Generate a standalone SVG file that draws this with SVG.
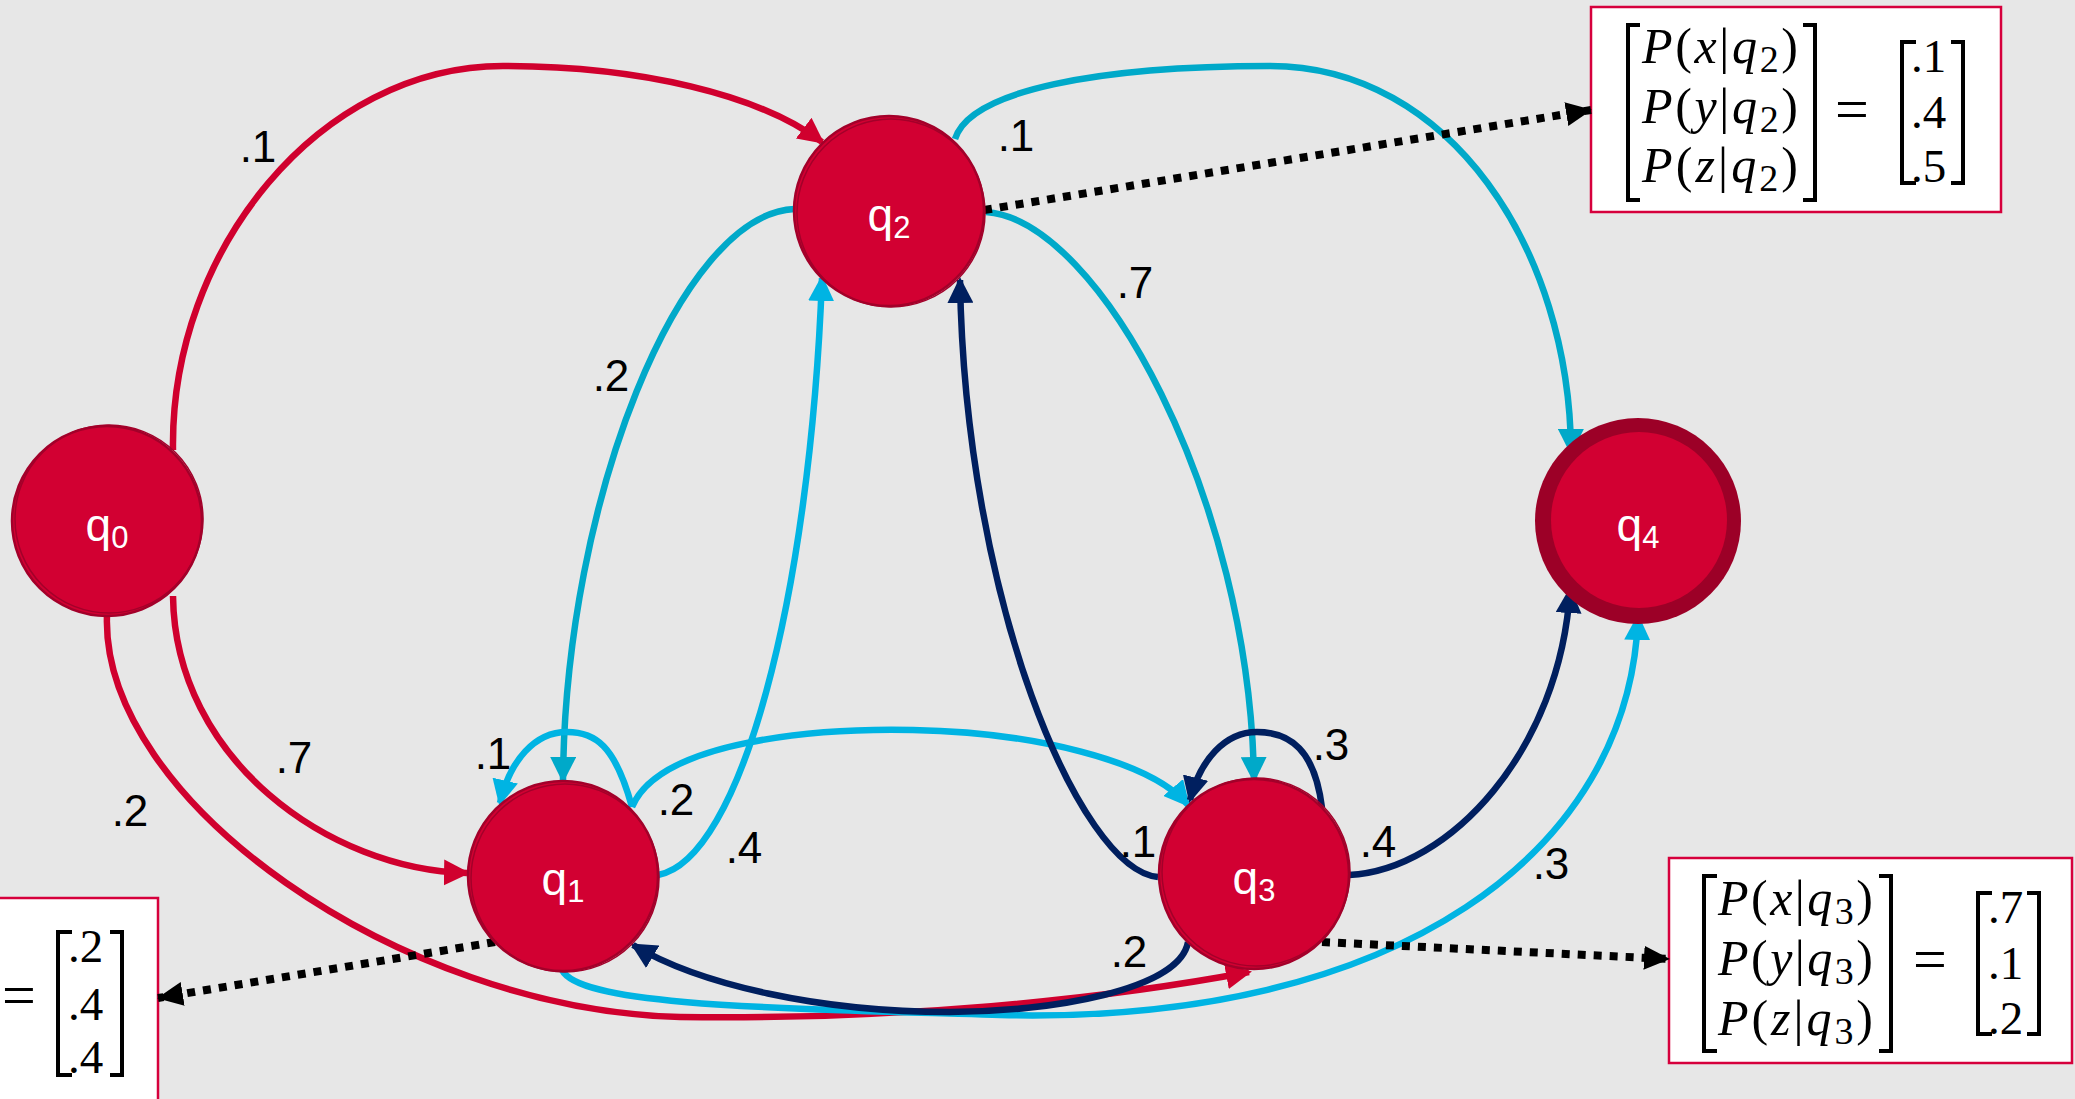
<svg xmlns="http://www.w3.org/2000/svg" width="2075" height="1099" viewBox="0 0 2075 1099">
<style>
.edge{fill:none;stroke-width:6.5}
.red{stroke:#d0002e}
.teal{stroke:#00a9c9}
.cyan{stroke:#00b4e3}
.navy{stroke:#001f5f}
.dot{fill:none;stroke:#000;stroke-width:8;stroke-dasharray:8 8}
.lbl{font-family:"Liberation Sans",Arial,sans-serif;font-size:44px;fill:#000;text-anchor:middle}
.nlbl{font-family:"Liberation Sans",Arial,sans-serif;font-size:46px;fill:#fff;text-anchor:middle}
.node{fill:#d20032;stroke:#a3002a;stroke-width:2.5}
.sk{fill:none;stroke:#a3002a;stroke-width:1.5}
.box{fill:#fff;stroke:#d6003c;stroke-width:2.5}
.br{fill:none;stroke:#000;stroke-width:4}
.mt{font-family:"Liberation Serif","Times New Roman",serif;font-size:50px;font-style:italic;fill:#000}
.up{font-style:normal}
.sub{font-style:normal;font-size:38px}
.num{font-family:"Liberation Serif","Times New Roman",serif;font-size:47px;fill:#000}
.eq{font-family:"Liberation Serif","Times New Roman",serif;font-size:60px;fill:#000;text-anchor:middle}
</style>
<defs>
<marker id="aRed" markerUnits="userSpaceOnUse" markerWidth="26" markerHeight="26" refX="23" refY="13" orient="auto"><path d="M0,0 L26,13 L0,26 z" fill="#d0002e"/></marker>
<marker id="aTeal" markerUnits="userSpaceOnUse" markerWidth="26" markerHeight="26" refX="23" refY="13" orient="auto"><path d="M0,0 L26,13 L0,26 z" fill="#00a9c9"/></marker>
<marker id="aCyan" markerUnits="userSpaceOnUse" markerWidth="26" markerHeight="26" refX="23" refY="13" orient="auto"><path d="M0,0 L26,13 L0,26 z" fill="#00b4e3"/></marker>
<marker id="aNavy" markerUnits="userSpaceOnUse" markerWidth="26" markerHeight="26" refX="23" refY="13" orient="auto"><path d="M0,0 L26,13 L0,26 z" fill="#001f5f"/></marker>
<marker id="aBlk" markerUnits="userSpaceOnUse" markerWidth="26" markerHeight="24" refX="25" refY="12" orient="auto"><path d="M0,0 L26,12 L0,24 z" fill="#000"/></marker>
</defs>
<rect x="0" y="0" width="2075" height="1099" fill="#e7e7e7"/>

<g id="boxes">
<g id="box-q2">
<rect class="box" x="1591" y="7" width="410" height="205"/>
<path class="br" d="M1640,25 H1628 V200 H1640 M1803,25 H1815 V200 H1803 M1916,42 H1902 V183 H1916 M1951,42 H1963 V183 H1951"/>
<text class="mt" x="1642" y="63" textLength="156" lengthAdjust="spacing">P<tspan class="up">(</tspan>x<tspan class="up">|</tspan>q<tspan class="sub" dy="9">2</tspan><tspan class="up" dy="-9">)</tspan></text>
<text class="mt" x="1642" y="123" textLength="156" lengthAdjust="spacing">P<tspan class="up">(</tspan>y<tspan class="up">|</tspan>q<tspan class="sub" dy="9">2</tspan><tspan class="up" dy="-9">)</tspan></text>
<text class="mt" x="1642" y="182" textLength="156" lengthAdjust="spacing">P<tspan class="up">(</tspan>z<tspan class="up">|</tspan>q<tspan class="sub" dy="9">2</tspan><tspan class="up" dy="-9">)</tspan></text>
<text class="eq" x="1852" y="129">=</text>
<text class="num" x="1911" y="72">.1</text>
<text class="num" x="1911" y="128">.4</text>
<text class="num" x="1911" y="182">.5</text>
</g>
<g id="box-q3">
<rect class="box" x="1669" y="858" width="403" height="205"/>
<path class="br" d="M1717,876 H1704 V1051 H1717 M1879,876 H1891 V1051 H1879 M1992,893 H1978 V1034 H1992 M2027,893 H2039 V1034 H2027"/>
<text class="mt" x="1718" y="915" textLength="155" lengthAdjust="spacing">P<tspan class="up">(</tspan>x<tspan class="up">|</tspan>q<tspan class="sub" dy="9">3</tspan><tspan class="up" dy="-9">)</tspan></text>
<text class="mt" x="1718" y="975" textLength="155" lengthAdjust="spacing">P<tspan class="up">(</tspan>y<tspan class="up">|</tspan>q<tspan class="sub" dy="9">3</tspan><tspan class="up" dy="-9">)</tspan></text>
<text class="mt" x="1718" y="1035" textLength="155" lengthAdjust="spacing">P<tspan class="up">(</tspan>z<tspan class="up">|</tspan>q<tspan class="sub" dy="9">3</tspan><tspan class="up" dy="-9">)</tspan></text>
<text class="eq" x="1930" y="979">=</text>
<text class="num" x="1988" y="923">.7</text>
<text class="num" x="1988" y="979">.1</text>
<text class="num" x="1988" y="1034">.2</text>
</g>
<g id="box-q1">
<rect class="box" x="-10" y="898" width="168" height="220"/>
<path class="br" d="M72,932 H58 V1075 H72 M110,932 H122 V1075 H110"/>
<text class="eq" x="19" y="1015">=</text>
<text class="num" x="68" y="962">.2</text>
<text class="num" x="68" y="1020">.4</text>
<text class="num" x="68" y="1073">.4</text>
</g>
</g>

<g id="connectors">
<path class="edge red" marker-end="url(#aRed)" d="M173,450 C170,250 320,66 503,66 C640,66 760,95 822,142"/>
<path class="edge red" marker-end="url(#aRed)" d="M173,596 C175,760 330,870 467,873"/>
<path class="edge red" marker-end="url(#aRed)" d="M107,615 C100,800 400,1010 680,1017 C900,1020 1100,1000 1249,972"/>
<path class="edge teal" marker-end="url(#aTeal)" d="M955,139 C970,90 1100,66 1270,66 C1450,66 1570,250 1571,452"/>
<path class="edge teal" marker-end="url(#aTeal)" d="M794,209 C680,215 565,500 563,780"/>
<path class="edge teal" marker-end="url(#aTeal)" d="M986,212 C1100,220 1250,500 1254,780"/>
<path class="edge cyan" marker-end="url(#aCyan)" d="M632,807 C615,745 595,732 567,732 C535,732 510,760 500,803"/>
<path class="edge cyan" marker-end="url(#aCyan)" d="M632,807 C660,740 820,728 913,730 C1030,732 1150,760 1188,805"/>
<path class="edge cyan" marker-end="url(#aCyan)" d="M658,875 C740,860 810,600 822,278"/>
<path class="edge cyan" marker-end="url(#aCyan)" d="M562,970 C580,1005 760,1008 1000,1015 C1400,1025 1630,850 1638,617"/>
<path class="edge navy" marker-end="url(#aNavy)" d="M1322,808 C1315,750 1290,732 1257,732 C1225,732 1200,760 1190,800"/>
<path class="edge navy" marker-end="url(#aNavy)" d="M1158,877 C1080,870 965,600 960,280"/>
<path class="edge navy" marker-end="url(#aNavy)" d="M1349,875 C1450,870 1560,750 1570,590"/>
<path class="edge navy" marker-end="url(#aNavy)" d="M1188,942 C1180,990 1050,1012 950,1012 C820,1012 700,985 633,945"/>
<path class="dot" marker-end="url(#aBlk)" d="M984,210 L1591,110"/>
<path class="dot" marker-end="url(#aBlk)" d="M1322,942 L1669,959"/>
<path class="dot" marker-end="url(#aBlk)" d="M495,942 L158,998"/>
<text class="lbl" x="258" y="162">.1</text>
<text class="lbl" x="294" y="773">.7</text>
<text class="lbl" x="130" y="826">.2</text>
<text class="lbl" x="1016" y="151">.1</text>
<text class="lbl" x="611" y="391">.2</text>
<text class="lbl" x="1135" y="298">.7</text>
<text class="lbl" x="493" y="769">.1</text>
<text class="lbl" x="676" y="815">.2</text>
<text class="lbl" x="744" y="863">.4</text>
<text class="lbl" x="1331" y="760">.3</text>
<text class="lbl" x="1138" y="857">.1</text>
<text class="lbl" x="1378" y="857">.4</text>
<text class="lbl" x="1129" y="967">.2</text>
<text class="lbl" x="1551" y="879">.3</text>
</g>

<g id="q0"><circle class="node" cx="107" cy="521" r="95"/><circle class="sk" cx="109" cy="519" r="94"/><text class="nlbl" x="107" y="541">q<tspan font-size="31" dy="7">0</tspan></text></g>
<g id="q1"><circle class="node" cx="563" cy="876" r="95"/><circle class="sk" cx="565" cy="878" r="94"/><text class="nlbl" x="563" y="895">q<tspan font-size="31" dy="7">1</tspan></text></g>
<g id="q2"><circle class="node" cx="889" cy="211" r="95"/><circle class="sk" cx="891" cy="213" r="94"/><text class="nlbl" x="889" y="231">q<tspan font-size="31" dy="7">2</tspan></text></g>
<g id="q3"><circle class="node" cx="1254" cy="874" r="95"/><circle class="sk" cx="1256" cy="872" r="94"/><text class="nlbl" x="1254" y="894">q<tspan font-size="31" dy="7">3</tspan></text></g>
<g id="q4"><circle cx="1638" cy="521" r="103" fill="#9c0027"/><circle cx="1639" cy="520" r="88" fill="#d20032"/><text class="nlbl" x="1638" y="541">q<tspan font-size="31" dy="7">4</tspan></text></g>
</svg>
